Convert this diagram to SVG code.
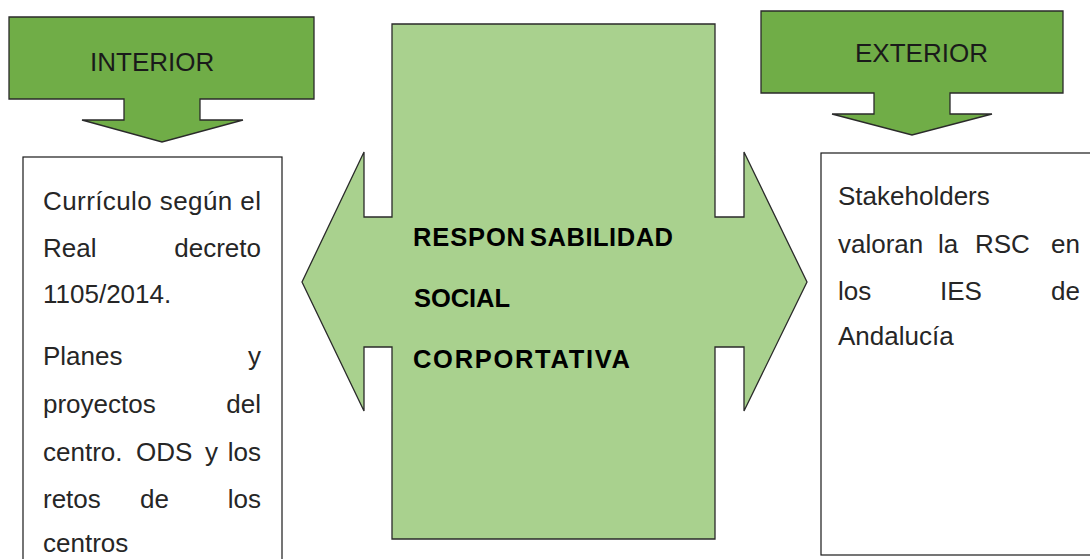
<svg xmlns="http://www.w3.org/2000/svg" width="1090" height="559" viewBox="0 0 1090 559">
<style>
.callout{fill:#70AD47;stroke:#2a2a2a;stroke-width:1.3;stroke-linejoin:miter}
.center{fill:#A9D18E;stroke:#2a2a2a;stroke-width:1.3}
.box{fill:#ffffff;stroke:#1a1a1a;stroke-width:1.2}
.lbl{font-family:"Liberation Sans",Arial,sans-serif;font-size:26px;fill:#1a1a1a}
.txt{font-family:"Liberation Sans",Arial,sans-serif;font-size:26px;fill:#262626}
.ctr{font-family:"Liberation Sans",Arial,sans-serif;font-size:25.5px;font-weight:bold;fill:#000000}
.end{text-anchor:end}
</style>
<rect width="1090" height="559" fill="#ffffff"/>
<g id="connectors"></g>
<g id="interior">
<path class="callout" d="M9,17 H314 V99 H200 V120 H243 L162,142 L82,120 H124 V99 H9 Z"/>
<text class="lbl" x="90" y="71">INTERIOR</text>
</g>
<g id="exterior">
<path class="callout" d="M761,11 H1063 V93 H950 V114 H992 L912,135 L832,114 H874 V93 H761 Z"/>
<text class="lbl" x="855" y="62">EXTERIOR</text>
</g>
<g id="rsc">
<path class="center" d="M392,24 H715 V217 H744 V152 L807,282 L744,411 V347 H715 V539 H392 V347 H364 V411 L302,282 L364,152 V217 H392 Z"/>
<text class="ctr" y="246"><tspan x="413" textLength="112" lengthAdjust="spacing">RESPON</tspan><tspan x="530" textLength="143" lengthAdjust="spacing">SABILIDAD</tspan></text>
<text class="ctr" x="414" y="307" textLength="96" lengthAdjust="spacing">SOCIAL</text>
<text class="ctr" x="413" y="368" textLength="217" lengthAdjust="spacing">CORPORTATIVA</text>
</g>
<g id="interior-box">
<rect class="box" x="23" y="157" width="259" height="430"/>
<text class="txt" x="43" y="210" textLength="218" lengthAdjust="spacing">Currículo según el</text>
<text class="txt" x="43" y="257">Real</text>
<text class="txt end" x="261" y="257">decreto</text>
<text class="txt" x="43" y="303">1105/2014.</text>
<text class="txt" x="43" y="365">Planes</text>
<text class="txt end" x="261" y="365">y</text>
<text class="txt" x="43" y="413">proyectos</text>
<text class="txt end" x="261" y="413">del</text>
<text class="txt" x="43" y="461">centro.</text>
<text class="txt" x="136" y="461">ODS</text>
<text class="txt" x="205" y="461">y</text>
<text class="txt end" x="261" y="461">los</text>
<text class="txt" x="43" y="508">retos</text>
<text class="txt" x="140" y="508">de</text>
<text class="txt end" x="261" y="508">los</text>
<text class="txt" x="43" y="552">centros</text>
</g>
<g id="exterior-box">
<rect class="box" x="821" y="153" width="300" height="402"/>
<text class="txt" x="838" y="205">Stakeholders</text>
<text class="txt" x="838" y="253">valoran</text>
<text class="txt" x="938" y="253">la</text>
<text class="txt" x="975" y="253">RSC</text>
<text class="txt end" x="1080" y="253">en</text>
<text class="txt" x="838" y="300">los</text>
<text class="txt" x="940" y="300">IES</text>
<text class="txt end" x="1080" y="300">de</text>
<text class="txt" x="838" y="345">Andalucía</text>
</g>
</svg>
